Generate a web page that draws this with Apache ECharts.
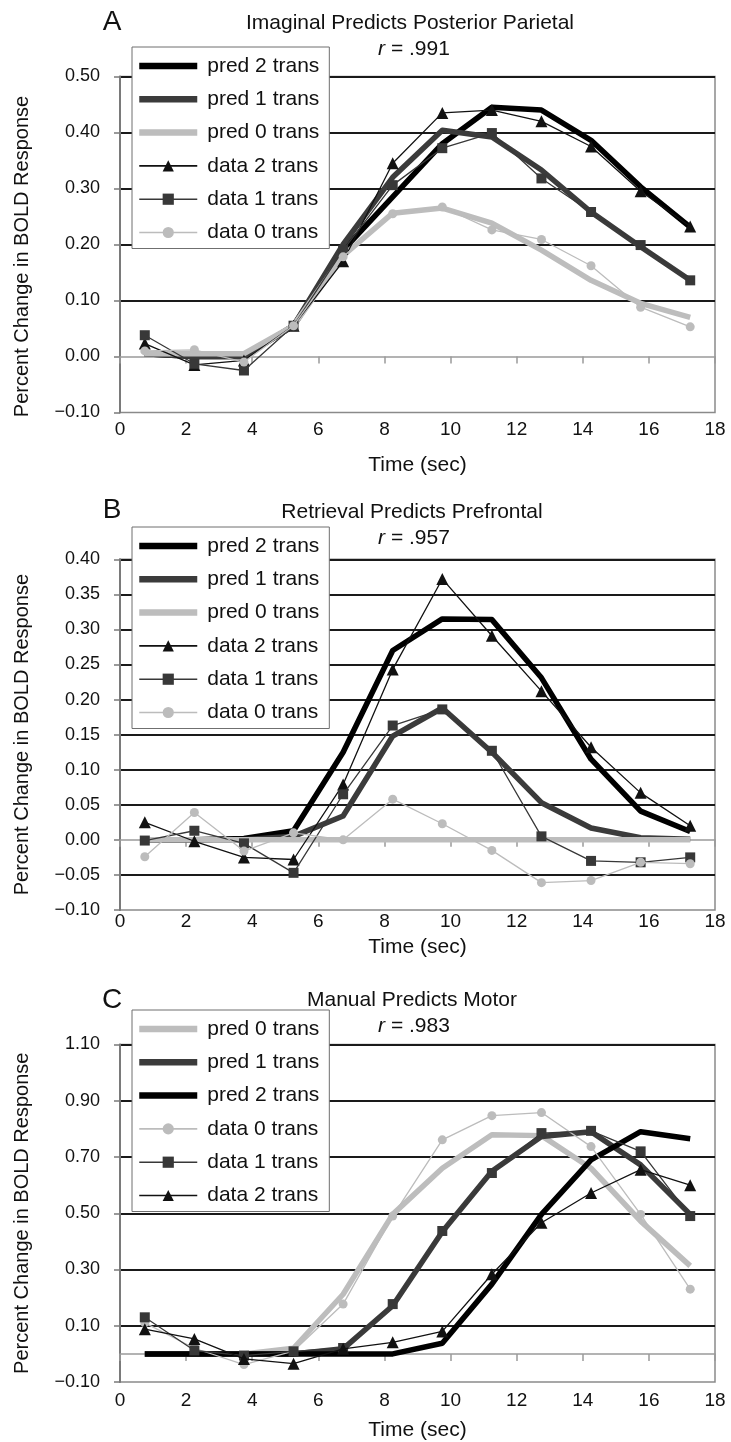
<!DOCTYPE html>
<html>
<head>
<meta charset="utf-8">
<title>BOLD response predictions</title>
<script src="https://cdn.jsdelivr.net/npm/echarts@6/dist/echarts.min.js"></script>
<style>
  html, body { margin: 0; padding: 0; background: #fff; }
  #chart { width: 731px; height: 1442px; }
</style>
</head>
<body>
<div id="chart"></div>
<script>
  // scan times (sec)
  var times = [0.75, 2.25, 3.75, 5.25, 6.75, 8.25, 9.75, 11.25, 12.75, 14.25, 15.75, 17.25];
  var xTicks = [0, 2, 4, 6, 8, 10, 12, 14, 16, 18];

  // A: Imaginal predicts posterior parietal
  var aTicks = [-0.10, 0.00, 0.10, 0.20, 0.30, 0.40, 0.50];
  var aPred2 = [0.005, 0.0, 0.0, 0.055, 0.19, 0.285, 0.38, 0.445, 0.44, 0.386, 0.303, 0.231];
  var aPred1 = [0.005, 0.0, 0.0, 0.055, 0.2, 0.32, 0.404, 0.392, 0.333, 0.258, 0.196, 0.136];
  var aPred0 = [0.005, 0.005, 0.005, 0.055, 0.18, 0.256, 0.265, 0.238, 0.19, 0.136, 0.095, 0.07];
  var aData2 = [0.023, -0.015, -0.007, 0.055, 0.17, 0.345, 0.435, 0.44, 0.42, 0.375, 0.295, 0.232];
  var aData1 = [0.038, -0.013, -0.025, 0.055, 0.19, 0.306, 0.372, 0.399, 0.318, 0.258, 0.199, 0.136];
  var aData0 = [0.01, 0.012, -0.01, 0.055, 0.178, 0.255, 0.267, 0.226, 0.209, 0.162, 0.088, 0.053];

  // B: Retrieval predicts prefrontal
  var bTicks = [-0.10, -0.05, 0.00, 0.05, 0.10, 0.15, 0.20, 0.25, 0.30, 0.35, 0.40];
  var bPred2 = [0, 0, 0.002, 0.013, 0.125, 0.27, 0.315, 0.314, 0.231, 0.115, 0.041, 0.012];
  var bPred1 = [0, 0, 0, 0.005, 0.034, 0.148, 0.188, 0.125, 0.053, 0.017, 0.003, 0.001];
  var bPred0 = [0, 0, 0, 0, 0, 0, 0, 0, 0, 0, 0, 0];
  var bData2 = [0.025, -0.002, -0.025, -0.028, 0.079, 0.243, 0.372, 0.291, 0.212, 0.132, 0.067, 0.02];
  var bData1 = [-0.001, 0.013, -0.005, -0.047, 0.065, 0.163, 0.186, 0.127, 0.005, -0.03, -0.032, -0.025];
  var bData0 = [-0.024, 0.039, -0.016, 0.01, 0.0, 0.058, 0.023, -0.015, -0.061, -0.058, -0.032, -0.034];

  // C: Manual predicts motor
  var cTicks = [-0.10, 0.10, 0.30, 0.50, 0.70, 0.90, 1.10];
  var cPred0 = [0, 0, 0, 0.02, 0.212, 0.496, 0.66, 0.779, 0.776, 0.66, 0.472, 0.313];
  var cPred1 = [0, 0, 0, 0, 0.018, 0.171, 0.434, 0.649, 0.773, 0.79, 0.672, 0.496];
  var cPred2 = [0, 0, 0, 0, 0, 0, 0.038, 0.248, 0.496, 0.69, 0.79, 0.765];
  var cData0 = [0.11, 0.02, -0.038, 0.01, 0.177, 0.49, 0.761, 0.847, 0.858, 0.737, 0.496, 0.23];
  var cData1 = [0.13, 0.012, -0.006, 0.009, 0.021, 0.177, 0.437, 0.643, 0.785, 0.793, 0.72, 0.49];
  var cData2 = [0.088, 0.053, -0.018, -0.035, 0.018, 0.041, 0.08, 0.283, 0.466, 0.572, 0.655, 0.6];

  var FONT = '"Liberation Sans", Arial, Helvetica, sans-serif';
  var INK = '#1a1a1a';
  var AXIS = '#8a8a8a';
  var NONE = 'rgba(0,0,0,0)';

  var looks = {
    'pred 2 trans': {color: '#000000', width: 5.5, symbol: 'none'},
    'pred 1 trans': {color: '#3b3b3b', width: 5.5, symbol: 'none'},
    'pred 0 trans': {color: '#bdbdbd', width: 5.5, symbol: 'none'},
    'data 2 trans': {color: '#111111', width: 1.3, symbol: 'triangle', size: 12},
    'data 1 trans': {color: '#383838', width: 1.3, symbol: 'rect', size: 10},
    'data 0 trans': {color: '#bcbcbc', width: 1.3, symbol: 'circle', size: 9}
  };

  var panels = [
    {
      letter: 'A', title: 'Imaginal Predicts Posterior Parietal', r: '.991',
      ticks: aTicks,
      lines: [['pred 2 trans', aPred2], ['pred 1 trans', aPred1], ['pred 0 trans', aPred0],
              ['data 2 trans', aData2], ['data 1 trans', aData1], ['data 0 trans', aData0]],
      splitColors: [NONE, NONE, INK, INK, INK, INK, INK],
      top: 76.5, height: 336, letterY: 22, titleX: 410, titleY: 23, rY: 49,
      legendTop: 47, labelMargin: 8, nameGap: 42, yNamePad: 24
    },
    {
      letter: 'B', title: 'Retrieval Predicts Prefrontal', r: '.957',
      ticks: bTicks,
      lines: [['pred 2 trans', bPred2], ['pred 1 trans', bPred1], ['pred 0 trans', bPred0],
              ['data 2 trans', bData2], ['data 1 trans', bData1], ['data 0 trans', bData0]],
      splitColors: [NONE, INK, NONE, INK, INK, INK, INK, INK, INK, INK, INK],
      top: 559.3, height: 350.7, letterY: 510, titleX: 412, titleY: 512, rY: 538,
      legendTop: 527, labelMargin: 2, nameGap: 27, yNamePad: 0
    },
    {
      letter: 'C', title: 'Manual Predicts Motor', r: '.983',
      ticks: cTicks,
      lines: [['pred 0 trans', cPred0], ['pred 1 trans', cPred1], ['pred 2 trans', cPred2],
              ['data 0 trans', cData0], ['data 1 trans', cData1], ['data 2 trans', cData2]],
      splitColors: [NONE, INK, INK, INK, INK, INK, INK],
      top: 1044.5, height: 337.5, letterY: 1000, titleX: 412, titleY: 1000, rY: 1026,
      legendTop: 1010, labelMargin: 9, nameGap: 38, yNamePad: 0
    }
  ];

  function fmtY(v) {
    if (Math.abs(v) < 1e-9) return '0.00';
    return (v < 0 ? '\u2212' : '') + Math.abs(v).toFixed(2);
  }

  var grids = [], xAxes = [], yAxes = [], legends = [], series = [], texts = [];

  panels.forEach(function (p, k) {
    var step = +(p.ticks[1] - p.ticks[0]).toFixed(4);
    var lo = p.ticks[0], hi = p.ticks[p.ticks.length - 1];

    grids.push({
      left: 120, right: 16, top: p.top, height: p.height,
      show: true, borderColor: AXIS, borderWidth: 1.5, backgroundColor: 'transparent'
    });

    // axis through zero, carries the tick marks
    xAxes.push({
      type: 'value', gridIndex: k, min: xTicks[0], max: xTicks[xTicks.length - 1],
      interval: xTicks[1] - xTicks[0],
      axisLine: {show: true, onZero: true, lineStyle: {color: '#9a9a9a', width: 1.5}},
      axisTick: {show: true, length: 7, lineStyle: {color: '#9a9a9a', width: 1.5}},
      axisLabel: {show: false},
      splitLine: {show: false}
    });
    // same scale, labels at the bottom
    xAxes.push({
      type: 'value', gridIndex: k, position: 'bottom', min: xTicks[0], max: xTicks[xTicks.length - 1],
      interval: xTicks[1] - xTicks[0],
      axisLine: {show: false, onZero: false},
      axisTick: {show: false},
      axisLabel: {margin: p.labelMargin, fontSize: 19, color: '#111', fontFamily: FONT},
      splitLine: {show: false},
      name: 'Time (sec)', nameLocation: 'middle', nameGap: p.nameGap,
      nameTextStyle: {fontSize: 21, color: '#111', fontFamily: FONT}
    });

    yAxes.push({
      type: 'value', gridIndex: k, min: lo, max: hi, interval: step,
      axisLine: {show: true, onZero: false, lineStyle: {color: '#7a7a7a', width: 2}},
      axisTick: {show: true, length: 6, lineStyle: {color: '#7a7a7a', width: 1.5}},
      axisLabel: {margin: 20, fontSize: 18, color: '#111', fontFamily: FONT, formatter: fmtY},
      splitLine: {show: true, lineStyle: {color: p.splitColors, width: 2}},
      name: 'Percent Change in BOLD Response', nameLocation: 'middle', nameRotate: 90, nameGap: 88,
      nameTextStyle: {fontSize: 20, color: '#111', fontFamily: FONT, padding: [0, p.yNamePad, 0, 0]}
    });

    legends.push({
      orient: 'vertical', left: 132, top: p.legendTop,
      padding: [8, 10, 5, 4], itemGap: 11.3, itemWidth: 58, itemHeight: 14,
      backgroundColor: '#fff', borderColor: '#6f6f6f', borderWidth: 1,
      selectedMode: false,
      textStyle: {fontSize: 21, lineHeight: 22, color: '#111', fontFamily: FONT, padding: [0, 0, 0, 5]},
      data: p.lines.map(function (l) {
        var lk = looks[l[0]];
        if (lk.symbol === 'none') {
          return {name: l[0], itemStyle: {opacity: 0}, lineStyle: {width: 6.5, color: lk.color}};
        }
        return {name: l[0], lineStyle: {width: 1.6, color: lk.color}, itemStyle: {color: lk.color}};
      })
    });

    p.lines.forEach(function (l, j) {
      var lk = looks[l[0]];
      series.push({
        name: l[0], type: 'line', xAxisIndex: 2 * k, yAxisIndex: k,
        data: times.map(function (t, i) { return [t, l[1][i]]; }),
        symbol: lk.symbol, symbolSize: lk.size || 0, showSymbol: lk.symbol !== 'none',
        lineStyle: {color: lk.color, width: lk.width, join: 'round'},
        itemStyle: {color: lk.color, borderWidth: 0},
        emphasis: {disabled: true},
        z: 2 + j * 0.01
      });
    });

    texts.push({
      type: 'text', x: 112, y: p.letterY, z: 10,
      style: {text: p.letter, fontSize: 28, fontFamily: FONT, fill: '#111', align: 'center', verticalAlign: 'middle'}
    });
    texts.push({
      type: 'text', x: p.titleX, y: p.titleY, z: 10,
      style: {text: p.title, fontSize: 21, fontFamily: FONT, fill: '#111', align: 'center', verticalAlign: 'middle'}
    });
    texts.push({
      type: 'text', x: 414, y: p.rY, z: 10,
      style: {
        text: '{i|r} = ' + p.r, fontSize: 21, fontFamily: FONT, fill: '#111', align: 'center', verticalAlign: 'middle',
        rich: {i: {fontStyle: 'italic', fontSize: 21, fontFamily: FONT, fill: '#111'}}
      }
    });
  });

  var myChart = echarts.init(document.getElementById('chart'), null, {renderer: 'canvas'});
  var option = {
    animation: false,
    backgroundColor: '#fff',
    textStyle: {fontFamily: FONT},
    grid: grids,
    xAxis: xAxes,
    yAxis: yAxes,
    legend: legends,
    graphic: {elements: texts},
    series: series
  };
  myChart.setOption(option);
</script>
</body>
</html>
